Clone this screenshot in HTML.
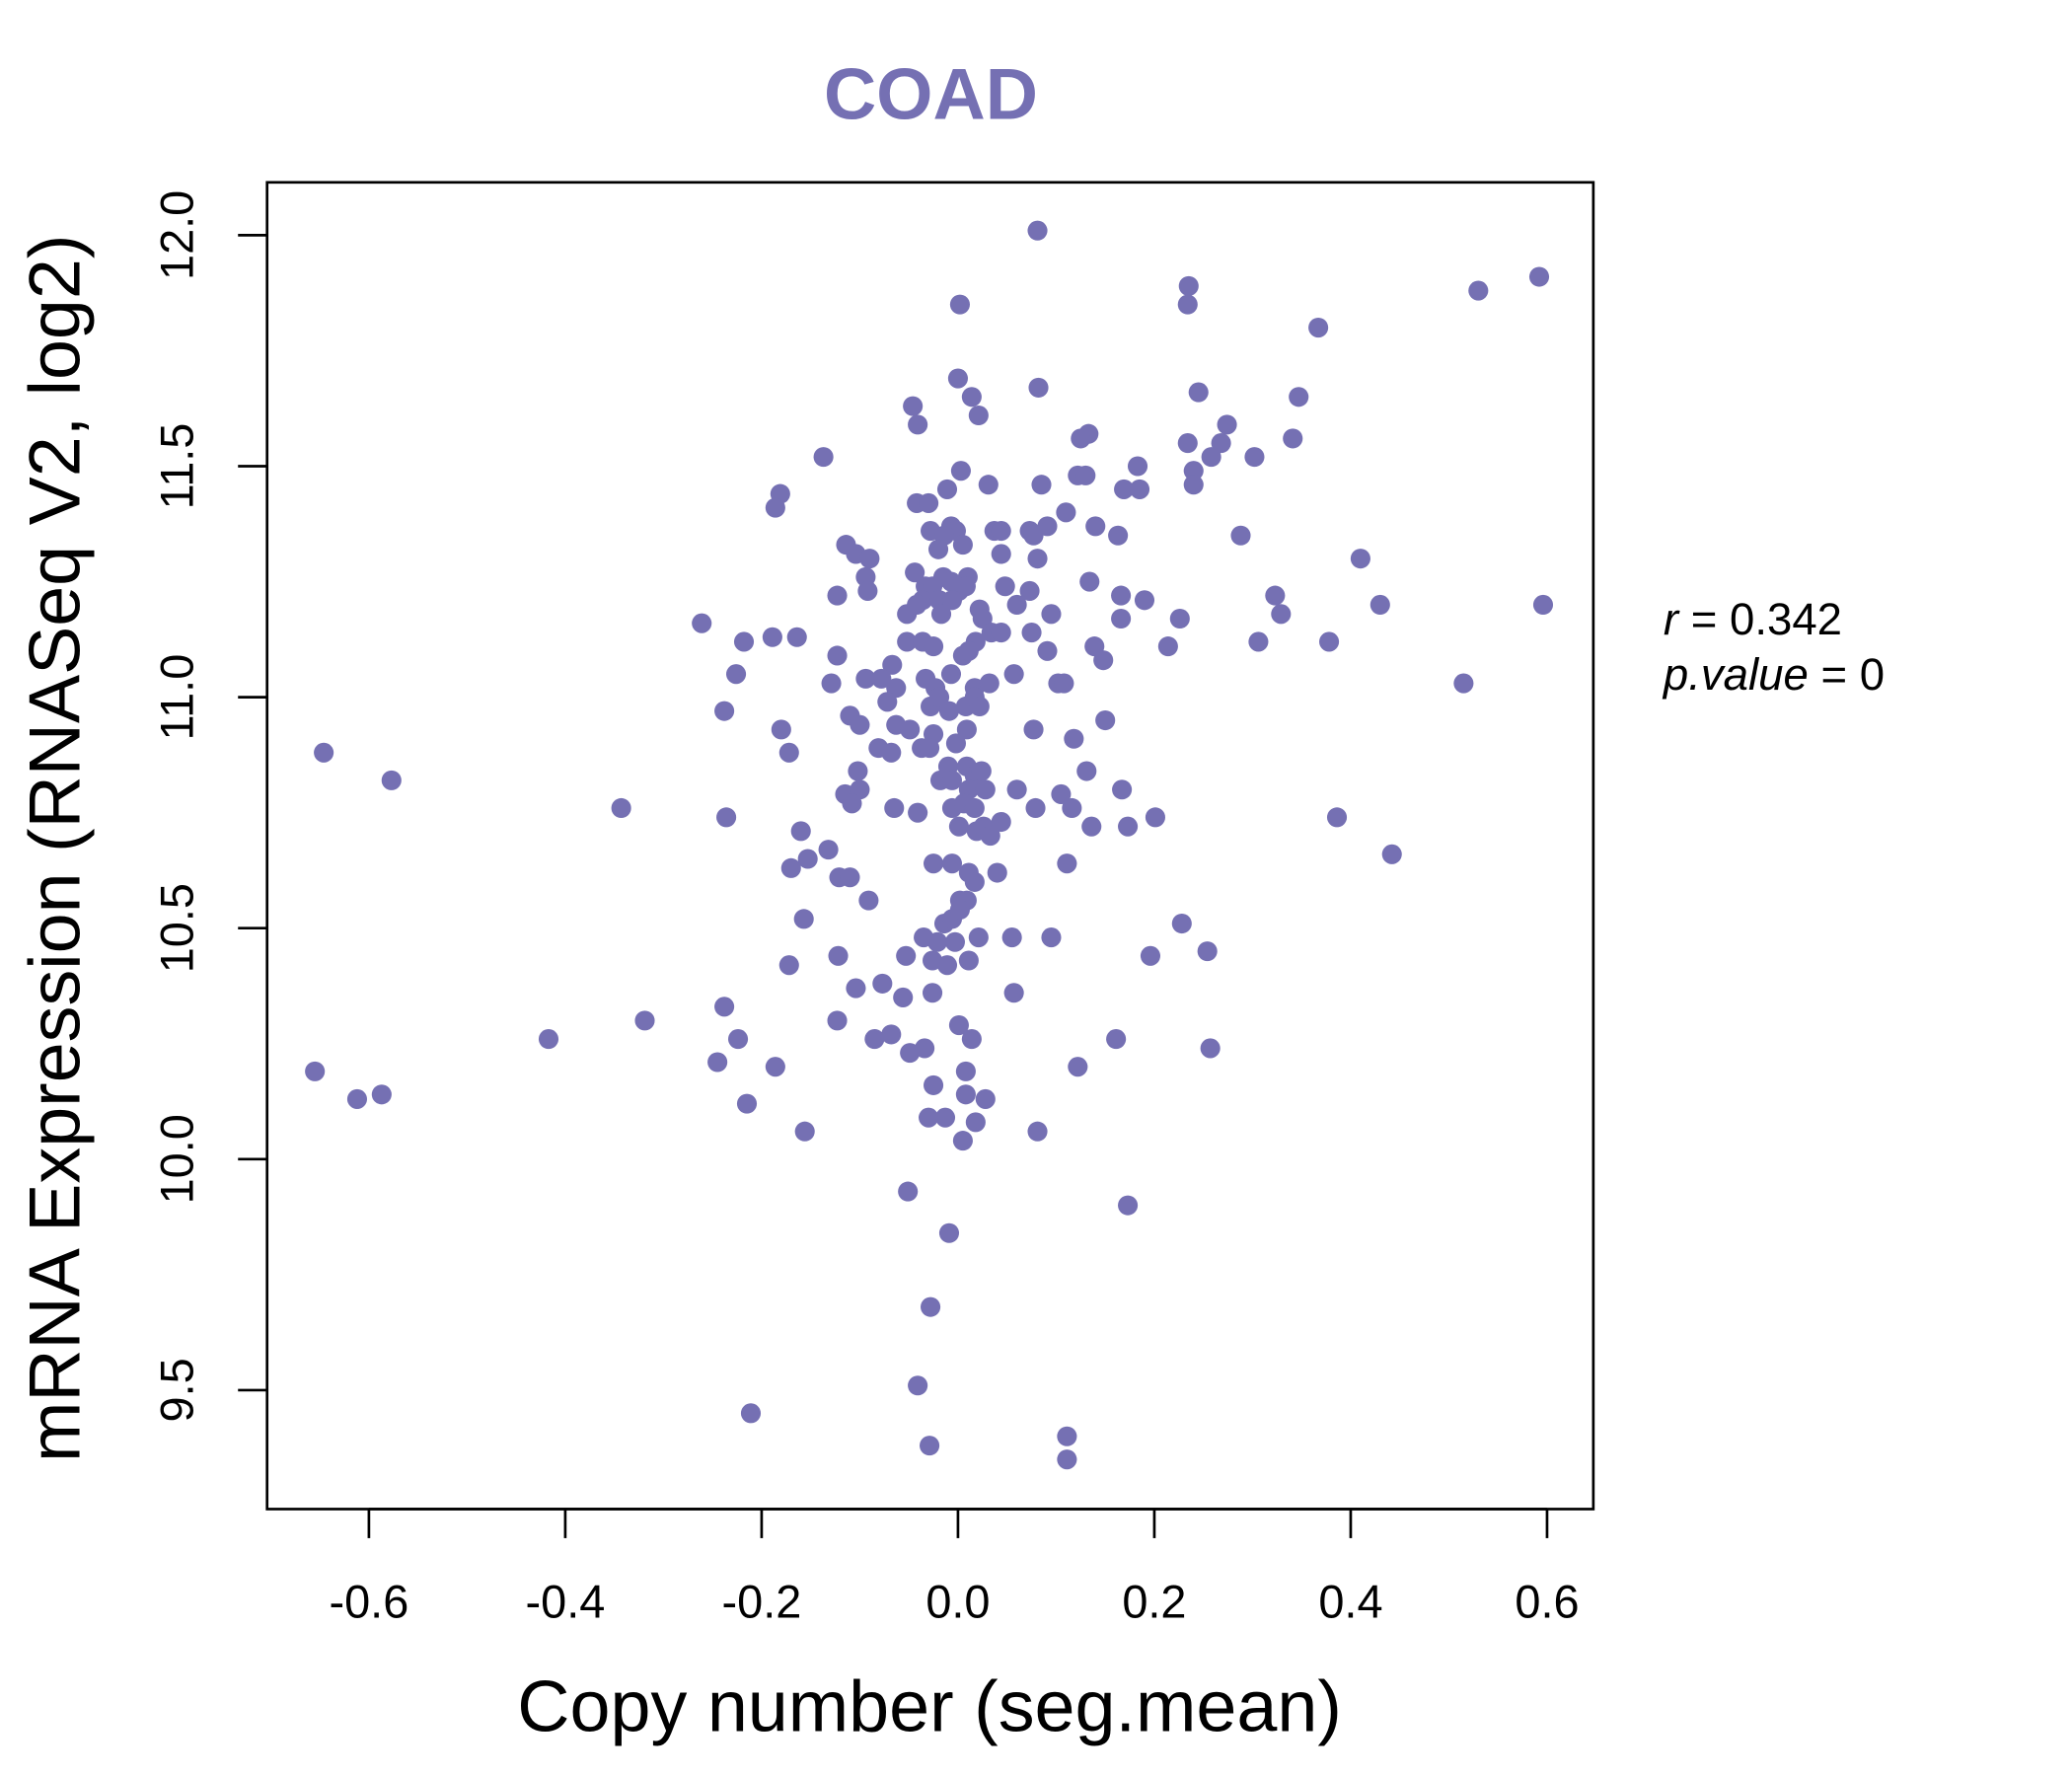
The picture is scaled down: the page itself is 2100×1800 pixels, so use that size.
<!DOCTYPE html>
<html><head><meta charset="utf-8"><style>
html,body{margin:0;padding:0;background:#fff;}
svg{display:block;}
text{font-family:"Liberation Sans",sans-serif;}
</style></head><body>
<svg id="chart" width="2100" height="1800" viewBox="0 0 1567 1344" preserveAspectRatio="none" xmlns="http://www.w3.org/2000/svg">
<rect width="1567" height="1344" fill="#fff"/>
<text x="704" y="90" text-anchor="middle" font-size="55" font-weight="bold" fill="#7570B3">COAD</text>
<rect x="202" y="138" width="1003" height="1004" fill="none" stroke="#000" stroke-width="2"/>
<g id="xaxis"></g>
<g id="yaxis"></g>
<g id="points"></g>
<text x="703" y="1310" text-anchor="middle" font-size="55">Copy number (seg.mean)</text>
<text transform="translate(60,642) rotate(-90)" text-anchor="middle" font-size="55">mRNA Expression (RNASeq V2, log2)</text>
<text x="1258" y="480" font-size="34"><tspan font-style="italic">r</tspan> = 0.342</text>
<text x="1258" y="522" font-size="34"><tspan font-style="italic">p.value</tspan> = 0</text>
</svg>
<script>
const xTicks=[-0.6,-0.4,-0.2,0.0,0.2,0.4,0.6];
const xTickLabels=["-0.6","-0.4","-0.2","0.0","0.2","0.4","0.6"];
const yTicks=[9.5,10.0,10.5,11.0,11.5,12.0];
const yTickLabels=["9.5","10.0","10.5","11.0","11.5","12.0"];
const xVals=[0.081,0.002,0.234,0.235,0.530,0.592,0.367,0.0,0.014,0.021,-0.046,-0.041,0.082,0.245,0.347,0.274,0.268,0.234,0.341,0.133,0.125,0.302,0.258,-0.137,0.003,0.183,0.240,0.240,0.122,0.130,-0.181,-0.186,-0.042,-0.030,-0.011,0.031,0.085,0.169,0.185,0.110,-0.007,-0.002,-0.028,-0.014,0.037,0.044,0.073,0.077,0.091,0.140,0.163,0.288,-0.114,-0.104,-0.090,-0.02,0.005,0.044,0.081,0.410,-0.123,-0.094,-0.092,-0.044,-0.033,-0.026,-0.015,-0.007,0.001,0.010,0.008,-0.036,-0.019,-0.006,0.048,0.073,0.134,0.166,0.190,0.323,0.430,0.596,-0.261,-0.052,-0.042,-0.017,0.022,0.025,0.060,0.095,0.166,0.226,0.329,-0.218,-0.189,-0.164,-0.052,-0.036,-0.025,0.018,0.034,0.044,0.075,0.139,0.148,0.214,0.306,0.378,-0.123,-0.067,0.005,0.011,0.091,-0.226,-0.129,-0.094,-0.078,-0.063,-0.033,-0.023,-0.007,0.017,0.032,0.057,0.102,0.108,0.515,-0.238,-0.110,-0.100,-0.072,-0.028,-0.019,-0.009,0.008,0.017,0.022,0.150,-0.180,-0.063,-0.049,-0.025,0.009,0.077,0.118,-0.172,-0.081,-0.068,-0.037,-0.029,-0.002,-0.646,-0.577,-0.102,-0.010,0.009,0.131,-0.018,-0.006,0.017,0.024,-0.115,-0.100,-0.108,0.011,0.028,0.060,0.105,0.167,-0.343,-0.065,-0.041,-0.006,0.006,0.017,0.079,0.116,-0.236,0.201,0.386,-0.160,0.001,0.019,0.026,0.044,0.033,0.136,0.173,-0.132,-0.153,-0.170,-0.025,-0.006,0.111,0.442,-0.121,-0.110,0.011,0.040,0.017,0.002,0.009,-0.091,-0.157,-0.014,-0.006,0.002,0.228,-0.035,-0.021,-0.003,0.021,0.055,0.095,-0.122,-0.053,-0.026,-0.011,0.011,0.196,0.254,-0.172,-0.104,-0.077,-0.056,-0.026,0.057,-0.238,-0.319,-0.123,0.001,-0.417,-0.224,-0.085,-0.068,0.014,0.161,-0.049,-0.034,0.257,-0.655,-0.245,-0.186,0.008,0.122,-0.612,-0.587,-0.215,-0.025,0.008,0.028,-0.030,-0.013,0.018,-0.156,0.081,0.005,-0.051,0.173,-0.009,-0.028,-0.041,-0.211,0.111,-0.029,0.111];
const yVals=[12.01,11.85,11.85,11.89,11.88,11.91,11.80,11.69,11.65,11.61,11.63,11.59,11.67,11.66,11.65,11.59,11.55,11.55,11.56,11.57,11.56,11.52,11.52,11.52,11.49,11.50,11.49,11.46,11.48,11.48,11.44,11.41,11.42,11.42,11.45,11.46,11.46,11.45,11.45,11.40,11.37,11.36,11.36,11.35,11.36,11.36,11.36,11.35,11.37,11.37,11.35,11.35,11.33,11.31,11.30,11.32,11.33,11.31,11.30,11.30,11.22,11.26,11.23,11.27,11.24,11.24,11.26,11.25,11.23,11.26,11.24,11.21,11.21,11.21,11.24,11.23,11.25,11.22,11.21,11.22,11.20,11.20,11.16,11.18,11.20,11.18,11.19,11.17,11.20,11.18,11.17,11.17,11.18,11.12,11.13,11.13,11.12,11.12,11.11,11.12,11.14,11.14,11.14,11.11,11.08,11.11,11.12,11.12,11.09,11.07,11.09,11.10,11.10,11.05,11.03,11.04,11.04,11.02,11.04,11.02,11.05,11.02,11.03,11.05,11.03,11.03,11.03,10.97,10.96,10.94,10.99,10.98,11.00,10.97,10.98,11.00,10.98,10.95,10.93,10.94,10.93,10.92,10.93,10.93,10.91,10.88,10.89,10.88,10.89,10.89,10.90,10.88,10.82,10.84,10.85,10.85,10.84,10.82,10.82,10.83,10.84,10.79,10.80,10.77,10.80,10.80,10.80,10.79,10.80,10.76,10.76,10.75,10.76,10.77,10.76,10.76,10.76,10.74,10.74,10.74,10.71,10.72,10.71,10.72,10.73,10.70,10.72,10.72,10.67,10.65,10.63,10.64,10.64,10.64,10.66,10.61,10.61,10.62,10.62,10.60,10.56,10.56,10.56,10.52,10.51,10.52,10.54,10.51,10.48,10.47,10.47,10.48,10.48,10.48,10.44,10.44,10.43,10.42,10.43,10.44,10.45,10.42,10.37,10.38,10.35,10.36,10.36,10.33,10.30,10.30,10.29,10.26,10.26,10.26,10.27,10.26,10.26,10.23,10.24,10.24,10.19,10.21,10.20,10.19,10.20,10.13,10.14,10.12,10.16,10.14,10.13,10.09,10.09,10.08,10.06,10.06,10.04,9.93,9.90,9.84,9.68,9.51,9.45,9.40,9.38,9.35];
const NS="http://www.w3.org/2000/svg";
function xScale(v){return 724.5+v*742.5;}
function yScale(v){return 178+(12-v)*349.6;}
function mk(tag,attrs,parent){const e=document.createElementNS(NS,tag);for(const k in attrs)e.setAttribute(k,attrs[k]);parent.appendChild(e);return e;}
const xa=document.getElementById('xaxis'),ya=document.getElementById('yaxis'),pg=document.getElementById('points');
mk('line',{x1:xScale(xTicks[0]),x2:xScale(xTicks[xTicks.length-1]),y1:1142,y2:1142,stroke:'#000','stroke-width':2},xa);
xTicks.forEach((t,i)=>{
  const x=xScale(t);
  const tk=mk('line',{x1:x,x2:x,y1:1142,y2:1164,stroke:'#000','stroke-width':2},xa);
  
  
  const tx=mk('text',{x:x,y:1224,'text-anchor':'middle','font-size':35},xa);
  tx.textContent=xTickLabels[i];
  
  
});
yTicks.forEach((t,i)=>{
  const y=yScale(t);
  const tk=mk('line',{x1:180,x2:202,y1:y,y2:y,stroke:'#000','stroke-width':2},ya);
  
  
  const tx=mk('text',{transform:`translate(146,${y}) rotate(-90)`,'text-anchor':'middle','font-size':35},ya);
  tx.textContent=yTickLabels[i];
  
  
});
xVals.forEach((v,i)=>{
  const c=mk('circle',{cx:xScale(v),cy:yScale(yVals[i]),r:7.5,fill:'#7570B3'},pg);
  
  
});
</script>
</body></html>
